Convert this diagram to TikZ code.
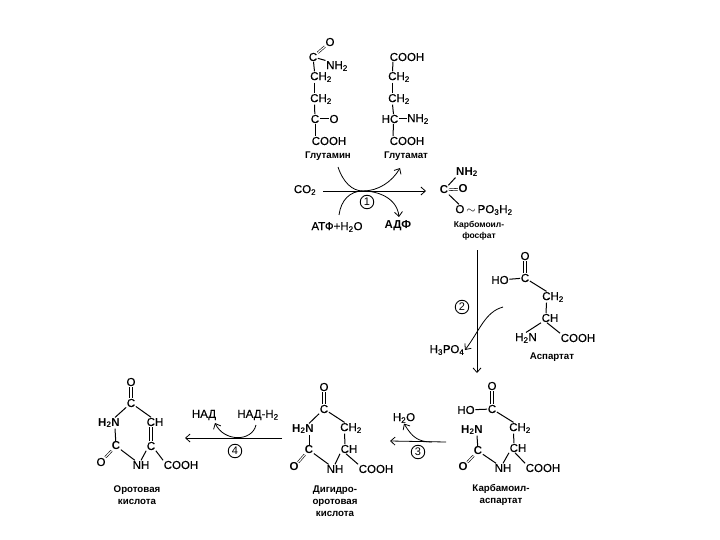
\documentclass[tikz,border=0pt]{standalone}
\usepackage{fontspec}
\setmainfont{Liberation Sans}
\newfontfamily\chemfont[FakeBold=0.3]{Liberation Sans}
\usetikzlibrary{arrows.meta}
\newcommand{\low}[1]{\textsubscript{#1}}
\newcommand{\vdouble}[2]{%
	\draw[dbl] ([xshift=-1.2pt]#1) -- ([xshift=-1.2pt]#2);
	\draw[dbl] ([xshift=1.2pt]#1) -- ([xshift=1.2pt]#2);}
\begin{document}
\begin{tikzpicture}[x=1pt,y=-1pt,
	atom/.style={inner sep=0.5pt,font=\chemfont\fontsize{11.5}{11.5}\selectfont},
	batom/.style={inner sep=0.5pt,font=\fontsize{11.5}{11.5}\selectfont\bfseries},
	chem/.style={inner sep=0.5pt,align=center,font=\fontsize{9.7}{12}\selectfont\bfseries},
	stepmark/.style={circle,draw,line width=0.9pt,inner sep=0pt,minimum size=13.5pt,font=\fontsize{11}{11}\selectfont},
	bond/.style={line width=1pt},
	dbl/.style={line width=0.7pt},
	slant/.style={line width=0.6pt,double,double distance=1.2pt},
	thin curve/.style={line width=0.8pt},
	flow/.style={line width=0.8pt,-{Straight Barb[length=4.5pt,width=8pt]}}]
	\useasboundingbox (0,0) rectangle (720,540);

	% glutamine
	\node[atom] (gO)  at (330,42)  {O};
	\node[atom] (gC)  at (313,57)  {C};
	\node[atom] (gN)  at (337,66)  {NH\low{2}};
	\node[atom] (gA)  at (321,77)  {CH\low{2}};
	\node[atom] (gB)  at (321,99)  {CH\low{2}};
	\node[atom] (gK)  at (315,119) {C};
	\node[atom] (gKO) at (334,119) {O};
	\node[atom] (gH)  at (329,141) {COOH};
	\node[chem] (gl)  at (328,156) {Глутамин};
	\draw[slant] (gC) -- (gO);
	\draw[bond] (gC) -- (gN.north west);
	\draw[bond] (gC) -- ([xshift=-6.5pt]gA.north);
	\draw[bond] ([xshift=-6.5pt]gA.south) -- ([xshift=-6.5pt]gB.north);
	\draw[bond] ([xshift=-6.5pt]gB.south) -- (gK);
	\draw[bond] (gK) -- (gKO);
	\draw[bond] (gK) -- ([xshift=-14pt]gH.north);

	% glutamate
	\node[atom] (eH)  at (407,57)  {COOH};
	\node[atom] (eA)  at (399,77)  {CH\low{2}};
	\node[atom] (eB)  at (399,99)  {CH\low{2}};
	\node[atom] (eC)  at (390,119) {HC};
	\node[atom] (eN)  at (418,119) {NH\low{2}};
	\node[atom] (eI)  at (407,141) {COOH};
	\node[chem] (el)  at (406,156) {Глутамат};
	\draw[bond] ([xshift=-14pt]eH.south) -- ([xshift=-6.5pt]eA.north);
	\draw[bond] ([xshift=-6.5pt]eA.south) -- ([xshift=-6.5pt]eB.north);
	\draw[bond] ([xshift=-6.5pt]eB.south) -- ([xshift=3.5pt]eC.north);
	\draw[bond] (eC) -- (eN);
	\draw[bond] ([xshift=3.5pt]eC.south) -- ([xshift=-14pt]eI.north);

	% step 1
	\node[atom]  (co)  at (305,190) {CO\low{2}};
	\node[atom]  (atp) at (337,227) {АТФ+Н\low{2}О};
	\node[batom] (adp) at (398,226) {АДФ};
	\node[stepmark] (s1) at (367,202) {1};
	\coordinate (m1)  at (363,191);
	\coordinate (a1)  at (338,167);
	\coordinate (a2)  at (400,168);
	\coordinate (b1)  at (339,215);
	\coordinate (b2)  at (399,217);
	\coordinate (c0)  at (323,191);
	\coordinate (c1)  at (426,191);
	\draw[flow] (c0) -- (c1);
	\draw[thin curve] (a1) .. controls (343,182) and (352,191) .. (m1);
	\draw[flow] (m1) .. controls (378,191) and (392,182) .. (a2);
	\draw[thin curve] (b1) .. controls (341,200) and (350,191) .. (m1);
	\draw[flow] (m1) .. controls (378,191) and (397,198) .. (b2);

	% carbamoyl phosphate
	\node[batom] (pN) at (467,172) {NH\low{2}};
	\node[batom] (pC) at (444,190) {C};
	\node[batom] (pO) at (463,189) {O};
	\node[atom]  (pP) at (484,210) {O$\,\sim\,$PO\low{3}H\low{2}};
	\node[chem,font=\fontsize{8.5}{11}\selectfont\bfseries] (pl) at (479,231) {Карбомоил-\\фосфат};
	\draw[bond] (pC) -- (pN.south west);
	\draw[slant] (pC) -- (pO);
	\draw[bond] (pC) -- ([xshift=-25pt]pP.north);

	% step 2
	\coordinate (d1)  at (477,250);
	\coordinate (d2)  at (477,373);
	\coordinate (f1)  at (503,307);
	\node[stepmark] (s2) at (462,307) {2};
	\node[atom] (pho) at (447,350) {Н\low{3}РО\low{4}};
	\draw[flow] (d1) -- (d2);
	\draw[flow] (f1) .. controls (485,312) and (480,330) .. (pho.east);

	% aspartate
	\node[atom] (aO)  at (525,256) {O};
	\node[atom] (aC)  at (525,278) {C};
	\node[atom] (aH)  at (500,280) {HO};
	\node[atom] (aA)  at (553,297) {CH\low{2}};
	\node[atom] (aB)  at (550,318) {CH};
	\node[atom] (aN)  at (526,338) {H\low{2}N};
	\node[atom] (aI)  at (578,338) {COOH};
	\node[chem] (al)  at (552,357) {Аспартат};
	\vdouble{aC.north}{aO.south}
	\draw[bond] (aH) -- (aC);
	\draw[bond] (aC) -- ([xshift=-6.5pt]aA.north);
	\draw[bond] ([xshift=-6.5pt]aA.south) -- ([xshift=-4pt]aB.north);
	\draw[bond] (aB.south west) -- (aN.north);
	\draw[bond] ([xshift=-3pt]aB.south) -- (aI.north west);

	% carbamoyl aspartate
	\node[atom]  (kO) at (492,386) {O};
	\node[atom]  (kC) at (492,409) {C};
	\node[atom]  (kH) at (466,410) {HO};
	\node[atom]  (kA) at (520,428) {CH\low{2}};
	\node[atom]  (kB) at (518,448) {CH};
	\node[batom] (kN) at (472,430) {H\low{2}N};
	\node[batom] (kD) at (478,451) {C};
	\node[batom] (kE) at (463,467) {O};
	\node[atom]  (kM) at (503,468) {NH};
	\node[atom]  (kI) at (543,468) {COOH};
	\node[chem]  (kl) at (501,495) {Карбамоил-\\аспартат};
	\vdouble{kC.north}{kO.south}
	\draw[bond] (kH) -- (kC);
	\draw[bond] (kC) -- ([xshift=-6.5pt]kA.north);
	\draw[bond] ([xshift=-6.5pt]kA.south) -- ([xshift=-4pt]kB.north);
	\draw[bond] (kB.south west) -- (kM.north);
	\draw[bond] ([xshift=-3pt]kB.south) -- (kI.north west);
	\draw[bond] (kM) -- (kD);
	\draw[bond] (kD) -- ([xshift=5pt]kN.south);
	\draw[slant] (kD) -- (kE);

	% step 3
	\coordinate (h1)  at (446,442);
	\coordinate (h2)  at (390,441);
	\coordinate (h3)  at (432,442);
	\node[atom] (wat) at (404,418) {Н\low{2}О};
	\node[stepmark] (s3) at (418,452) {3};
	\draw[flow] (h1) -- (h2);
	\draw[flow] (h3) .. controls (418,442) and (412,437) .. (wat.south);

	% dihydroorotate
	\node[atom]  (hO) at (324,387) {O};
	\node[atom]  (hC) at (324,409) {C};
	\node[batom] (hN) at (303,429) {H\low{2}N};
	\node[atom]  (hA) at (351,428) {CH\low{2}};
	\node[batom] (hD) at (309,450) {C};
	\node[atom]  (hB) at (349,449) {CH};
	\node[batom] (hE) at (294,467) {O};
	\node[atom]  (hM) at (335,469) {NH};
	\node[atom]  (hI) at (376,469) {COOH};
	\node[chem]  (hl) at (335,501) {Дигидро-\\оротовая\\кислота};
	\vdouble{hC.north}{hO.south}
	\draw[bond] (hC) -- ([xshift=6pt]hN.north);
	\draw[bond] (hC) -- ([xshift=-6.5pt]hA.north);
	\draw[bond] ([xshift=-6.5pt]hA.south) -- ([xshift=-4pt]hB.north);
	\draw[bond] (hB.south west) -- (hM.north);
	\draw[bond] ([xshift=-3pt]hB.south) -- (hI.north west);
	\draw[bond] (hM) -- (hD);
	\draw[bond] (hD) -- ([xshift=6pt]hN.south);
	\draw[slant] (hD) -- (hE);

	% step 4
	\coordinate (n1)  at (282,438);
	\coordinate (n2)  at (185,438);
	\coordinate (n3)  at (256,425);
	\coordinate (n4)  at (215,423);
	\node[atom] (nad) at (204,415) {НАД};
	\node[atom] (nah) at (258,415) {НАД-Н\low{2}};
	\node[stepmark] (s4) at (235,451) {4};
	\draw[flow] (n1) -- (n2);
	\draw[flow] (n3) .. controls (252,442) and (224,442) .. (n4);

	% orotic acid
	\node[atom]  (oO) at (131,382) {O};
	\node[atom]  (oC) at (131,403) {C};
	\node[batom] (oN) at (109,423) {H\low{2}N};
	\node[atom]  (oA) at (155,422) {CH};
	\node[batom] (oD) at (116,446) {C};
	\node[atom]  (oB) at (151,446) {C};
	\node[atom]  (oE) at (101,462) {O};
	\node[atom]  (oM) at (141,465) {NH};
	\node[atom]  (oI) at (181,465) {COOH};
	\node[chem]  (ol) at (137,495) {Оротовая\\кислота};
	\coordinate (oS) at ([xshift=-4pt]oA.south);
	\vdouble{oC.north}{oO.south}
	\vdouble{oB.north}{oS}
	\draw[bond] (oC) -- ([xshift=6pt]oN.north);
	\draw[bond] (oC) -- ([xshift=-4pt]oA.north);
	\draw[bond] (oB.south west) -- (oM.north);
	\draw[bond] (oB.south east) -- (oI.north west);
	\draw[bond] (oM) -- (oD);
	\draw[bond] (oD) -- ([xshift=6pt]oN.south);
	\draw[slant] (oD) -- (oE);
\end{tikzpicture}
\end{document}
